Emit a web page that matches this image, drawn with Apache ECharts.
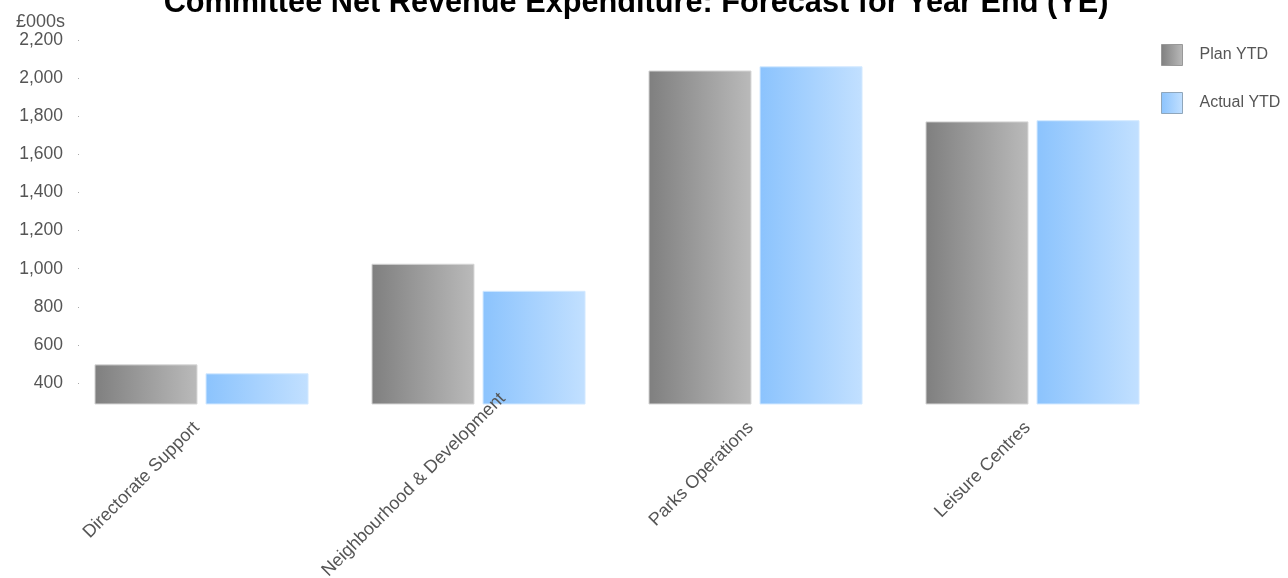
<!DOCTYPE html>
<html>
<head>
<meta charset="utf-8">
<script src="https://cdn.jsdelivr.net/npm/echarts@6/dist/echarts.min.js"></script>
<style>
html,body{margin:0;padding:0;background:#fff;}
#chart{width:1288px;height:578px;}
</style>
</head>
<body>
<div id="chart"></div>
<script>
const categories = ['Directorate Support', 'Neighbourhood & Development', 'Parks Operations', 'Leisure Centres'];
const planYTD = [498, 1026, 2040, 1773];
const actualYTD = [451, 884, 2062, 1779];
const yTicks = [400, 600, 800, 1000, 1200, 1400, 1600, 1800, 2000, 2200];
const seriesNames = ['Plan YTD', 'Actual YTD'];
const titleText = 'Committee Net Revenue Expenditure: Forecast for Year End (YE)';
const yUnit = '£000s';

const FONT = "'Liberation Sans', Arial, sans-serif";
const greyGrad = new echarts.graphic.LinearGradient(0, 0, 1, 0, [
  {offset: 0, color: '#7f7f7f'}, {offset: 1, color: '#bababa'}
]);
const blueGrad = new echarts.graphic.LinearGradient(0, 0, 1, 0, [
  {offset: 0, color: '#8bc3fd'}, {offset: 1, color: '#c2e0ff'}
]);

const chart = echarts.init(document.getElementById('chart'), null, {renderer: 'canvas'});
chart.setOption({
  animation: false,
  backgroundColor: '#ffffff',
  title: {
    text: titleText,
    left: 631,
    textAlign: 'center',
    top: -17,
    textStyle: {fontFamily: FONT, fontSize: 30.7, fontWeight: 'bold', color: '#000'}
  },
  legend: {
    orient: 'vertical',
    left: 1161,
    top: 44,
    padding: 0,
    itemWidth: 21,
    itemHeight: 21,
    itemGap: 26,
    icon: 'rect',
    textStyle: {fontFamily: FONT, fontSize: 16, color: '#555', padding: [0, 0, 0, 12]},
    data: [
      {name: seriesNames[0], itemStyle: {borderColor: '#999', borderWidth: 1}},
      {name: seriesNames[1], itemStyle: {borderColor: '#8fa6bb', borderWidth: 1}}
    ]
  },
  grid: {
    left: 63, top: 40, width: 1108, height: 364,
    containLabel: false,
    outerBoundsMode: 'none'
  },
  xAxis: {
    type: 'category',
    z: 5,
    data: categories.map((c, i) => ({
      value: c,
      textStyle: {padding: i === 1 ? [0, -34, 0, 0] : [0, 7, 0, 0]}
    })),
    axisLine: {show: false},
    axisTick: {show: false},
    axisLabel: {
      rotate: 45, interval: 0, margin: 16,
      fontFamily: FONT, fontSize: 18, color: '#555'
    }
  },
  yAxis: {
    type: 'value',
    min: 290, max: 2200,
    name: yUnit,
    nameLocation: 'end',
    nameGap: 8,
    nameTextStyle: {fontFamily: FONT, fontSize: 18, color: '#555', align: 'right', padding: [0, -2, 0, 0]},
    axisLine: {show: false},
    axisTick: {show: false, customValues: yTicks},
    axisLabel: {
      customValues: yTicks,
      margin: 0,
      fontFamily: FONT, fontSize: 17.5, color: '#555',
      formatter: v => v.toLocaleString('en-US')
    },
    splitLine: {
      show: true,
      lineStyle: {color: '#aaa', width: 1, type: [1, 3000], dashOffset: -15}
    }
  },
  series: [
    {
      name: seriesNames[0], type: 'bar', data: planYTD,
      barWidth: 103, barGap: '7.8%',
      itemStyle: {color: greyGrad, borderColor: '#d6d6d6', borderWidth: 1}
    },
    {
      name: seriesNames[1], type: 'bar', data: actualYTD,
      barWidth: 103, barGap: '7.8%',
      itemStyle: {color: blueGrad, borderColor: '#d3e9ff', borderWidth: 1}
    }
  ]
});
</script>
</body>
</html>
